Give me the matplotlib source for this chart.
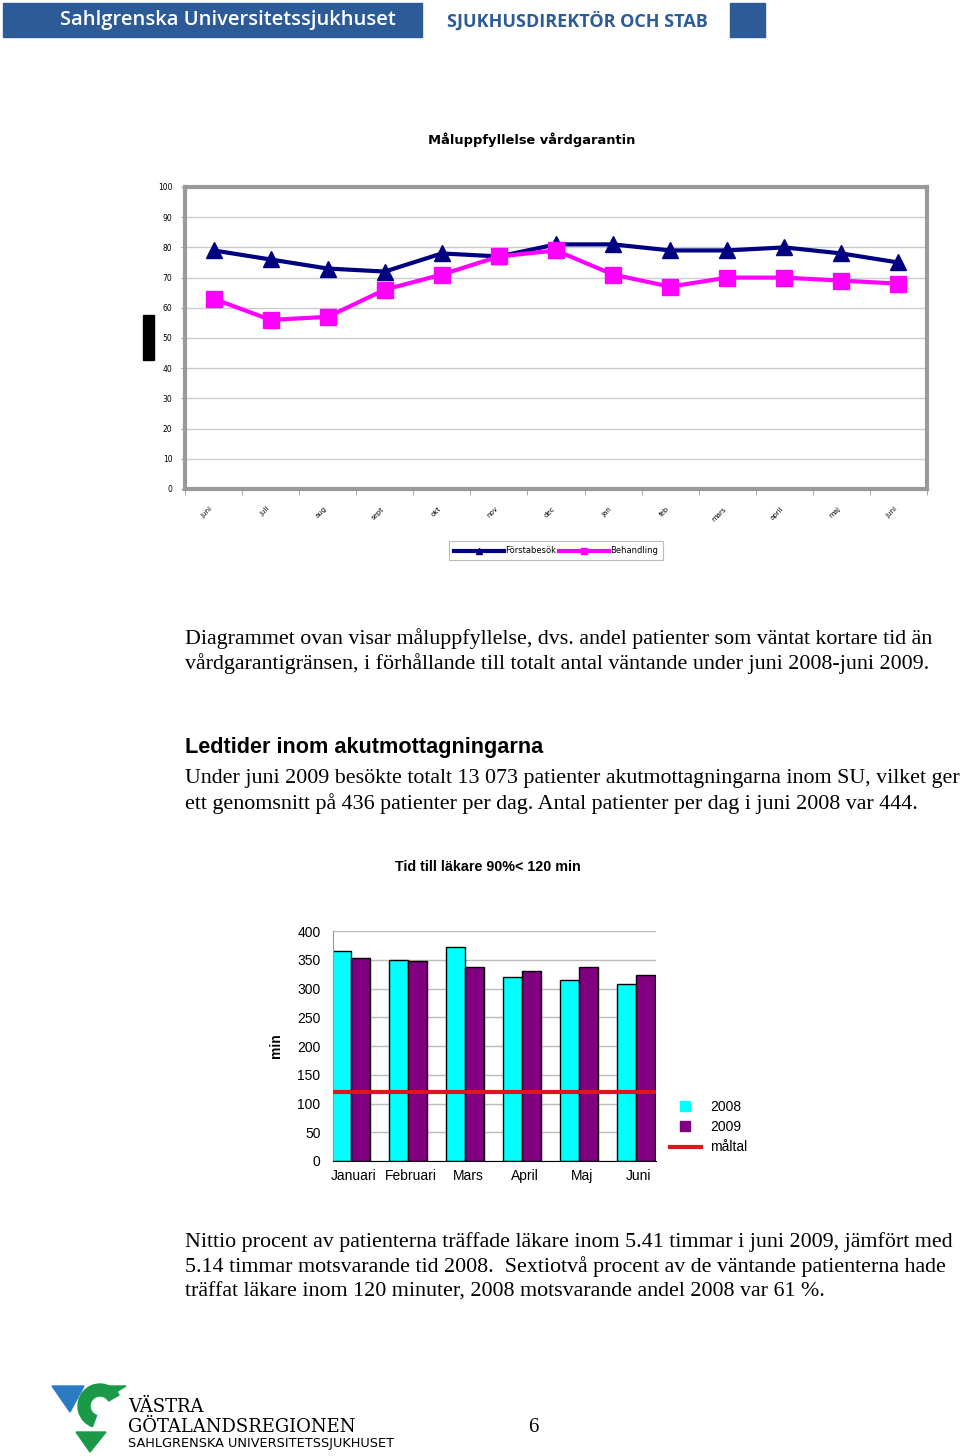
import matplotlib
matplotlib.use('Agg')
import matplotlib.pyplot as plt
from matplotlib.patches import Rectangle, Polygon, Wedge
from matplotlib.lines import Line2D
import numpy as np

W, H = 960, 1456

# line chart data (share of patients within the care guarantee, %)
months = ['juni', 'juli', 'aug', 'sept', 'okt', 'nov', 'dec', 'jan', 'feb', 'mars', 'april', 'maj', 'juni']
forsta_besok = [79, 76, 73, 72, 78, 77, 81, 81, 79, 79, 80, 78, 75]
behandling = [63, 56, 57, 66, 71, 77, 79, 71, 67, 70, 70, 69, 68]
line_yticks = list(range(0, 101, 10))

# bar chart data (minutes until doctor, 90th percentile)
bar_months = ['Januari', 'Februari', 'Mars', 'April', 'Maj', 'Juni']
tid_2008 = [366, 349, 372, 320, 314, 308]
tid_2009 = [353, 348, 338, 330, 338, 323]
maltal = 120
bar_yticks = list(range(0, 401, 50))

para1 = ['Diagrammet ovan visar måluppfyllelse, dvs. andel patienter som väntat kortare tid än',
         'vårdgarantigränsen, i förhållande till totalt antal väntande under juni 2008-juni 2009.']
para2 = ['Under juni 2009 besökte totalt 13 073 patienter akutmottagningarna inom SU, vilket ger',
         'ett genomsnitt på 436 patienter per dag. Antal patienter per dag i juni 2008 var 444.']
para3 = ['Nittio procent av patienterna träffade läkare inom 5.41 timmar i juni 2009, jämfört med',
         '5.14 timmar motsvarande tid 2008.  Sextiotvå procent av de väntande patienterna hade',
         'träffat läkare inom 120 minuter, 2008 motsvarande andel 2008 var 61 %.']


def rect(x0, y0, x1, y1):
    return [x0 / W, 1 - y1 / H, (x1 - x0) / W, (y1 - y0) / H]


def ftext(x, y, s, **kw):
    fig.text(x / W, 1 - y / H, s, **kw)


fig = plt.figure(figsize=(W / 100, H / 100), dpi=100)
serif = 'Liberation Serif'
sans = 'Liberation Sans'
body_size = 15.8

# overlay for header / footer decorations
bg = fig.add_axes([0, 0, 1, 1])
bg.set_xlim(0, W)
bg.set_ylim(H, 0)
bg.axis('off')
blue = '#2d5b98'
bg.add_patch(Rectangle((3, 3), 419, 34, color=blue))
bg.add_patch(Rectangle((730, 3), 35, 34, color=blue))
bg.text(228, 20, 'Sahlgrenska Universitetssjukhuset', color='white', fontsize=14.5,
        family='Open Sans', weight='semibold', ha='center', va='center')
bg.text(577, 21, 'SJUKHUSDIREKTÖR OCH STAB', color=blue, fontsize=13,
        family='Open Sans', weight='bold', ha='center', va='center')
bg.add_patch(Rectangle((143, 315), 11, 45, color='black'))

# footer logo
bg.add_patch(Polygon([(52, 1386), (84, 1386), (70, 1412)], color='#2a7bc4'))
bg.add_patch(Wedge((100, 1406), 22, 110, 330, width=12, color='#1a9a48'))
bg.add_patch(Polygon([(92, 1386), (126, 1386), (108, 1397)], color='#1a9a48'))
bg.add_patch(Polygon([(76, 1432), (106, 1432), (90, 1452)], color='#1a9a48'))
bg.text(128, 1407, 'VÄSTRA', fontsize=13, family='DejaVu Serif', va='center')
bg.text(128, 1427, 'GÖTALANDSREGIONEN', fontsize=13, family='DejaVu Serif', va='center')
bg.text(128, 1444, 'SAHLGRENSKA UNIVERSITETSSJUKHUSET', fontsize=9.3, family='DejaVu Sans',
        va='center')
bg.text(533, 1428, '6', fontsize=15, family=serif, ha='center', va='center')

# ---------- line chart ----------
ftext(532, 140, 'Måluppfyllelse vårdgarantin', fontsize=9.4, family='DejaVu Sans',
      weight='bold', ha='center', va='center')
ax1 = fig.add_axes(rect(185, 187, 927, 489))
x = np.arange(len(months))
ax1.plot(x, forsta_besok, color='#000080', lw=3, marker='^', ms=11, zorder=3,
         label='Förstabesök')
ax1.plot(x, behandling, color='#ff00ff', lw=3, marker='s', ms=12, zorder=3,
         label='Behandling')
ax1.set_xlim(-0.5, len(months) - 0.5)
ax1.set_ylim(0, 100)
ax1.set_yticks(line_yticks)
ax1.set_yticklabels([str(v) for v in line_yticks], fontsize=5.5)
ax1.set_xticks(x)
ax1.set_xticklabels(months, fontsize=5, rotation=45, ha='right')
ax1.set_xticks(np.arange(-0.5, len(months)), minor=True)
ax1.tick_params(axis='x', which='major', length=0, pad=12)
ax1.tick_params(axis='x', which='minor', length=4, color='#999999')
ax1.tick_params(axis='y', length=3, color='#999999', pad=6)
ax1.grid(axis='y', color='#cccccc', lw=1)
ax1.set_axisbelow(True)
for sp in ax1.spines.values():
    sp.set_color('#999999')
    sp.set_linewidth(3)
leg = ax1.legend(loc='upper center', bbox_to_anchor=(0.5, -0.16), ncol=2, fontsize=6,
                 frameon=True, fancybox=False, handlelength=6, columnspacing=0.3,
                 handletextpad=0.1, borderpad=0.6)
leg.get_frame().set_edgecolor('#aaaaaa')
leg.get_frame().set_linewidth(0.8)
for h in leg.legend_handles:
    h.set_markersize(5)

# ---------- text ----------
for i, s in enumerate(para1):
    ftext(185, 639 + 25 * i, s, fontsize=body_size, family=serif, va='center')
ftext(185, 748, 'Ledtider inom akutmottagningarna', fontsize=15.6, family=sans,
      weight='bold', va='center')
for i, s in enumerate(para2):
    ftext(185, 779 + 25 * i, s, fontsize=body_size, family=serif, va='center')
for i, s in enumerate(para3):
    ftext(185, 1242 + 25 * i, s, fontsize=body_size, family=serif, va='center')

# ---------- bar chart ----------
ftext(488, 867, 'Tid till läkare 90%< 120 min', fontsize=10.3, family=sans,
      weight='bold', ha='center', va='center')
ax2 = fig.add_axes(rect(333, 931, 656, 1161))
bx = np.arange(len(bar_months))
bw = 0.33
ax2.bar(bx - bw / 2, tid_2008, bw, color='#00ffff', edgecolor='black', lw=1, zorder=2)
ax2.bar(bx + bw / 2, tid_2009, bw, color='#800080', edgecolor='black', lw=1, zorder=2)
ax2.axhline(maltal, color='#e0141e', lw=3, zorder=3)
ax2.set_xlim(-0.32, 5.35)
ax2.set_ylim(0, 400)
ax2.set_yticks(bar_yticks)
ax2.set_yticklabels([str(v) for v in bar_yticks], fontsize=10, family=sans)
ax2.set_xticks(bx + 0.05)
ax2.set_xticklabels(bar_months, fontsize=10, family=sans)
ax2.tick_params(length=0, pad=6)
ax2.tick_params(axis='y', pad=9)
ax2.grid(axis='y', color='#bbbbbb', lw=1)
ax2.set_axisbelow(True)
for s in ('top', 'right'):
    ax2.spines[s].set_visible(False)
ax2.spines['left'].set_color('#999999')
ax2.spines['bottom'].set_color('black')
ax2.set_ylabel('min', fontsize=10, family=sans, weight='bold', labelpad=10)
handles = [Line2D([], [], ls='none', marker='s', ms=7, color='#00ffff'),
           Line2D([], [], ls='none', marker='s', ms=7, color='#800080'),
           Line2D([], [], color='#e0141e', lw=3)]
ax2.legend(handles, ['2008', '2009', 'måltal'], loc='upper left',
           bbox_to_anchor=(1.005, 0.32), frameon=False,
           prop={'family': sans, 'size': 10}, handlelength=2.2, labelspacing=0.45,
           handletextpad=0.7)

fig.savefig('out.png', dpi=100)
